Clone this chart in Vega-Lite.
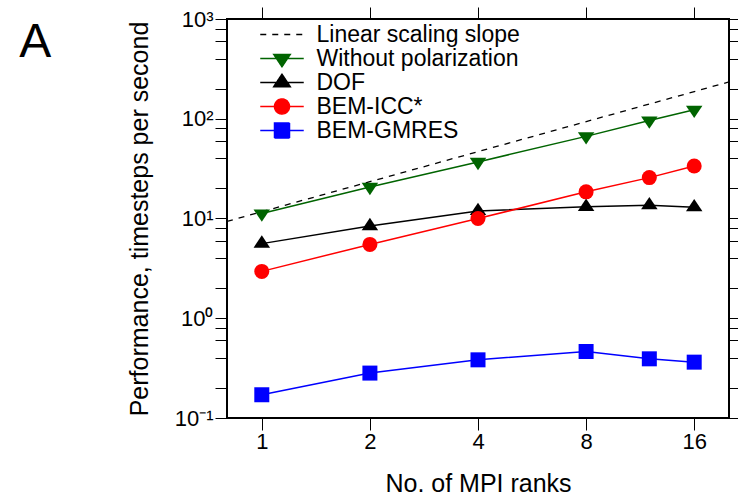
{
  "$schema": "https://vega.github.io/schema/vega-lite/v6.json",
  "width": 502,
  "height": 399,
  "autosize": {"type": "none"},
  "padding": {"left": 227, "top": 19, "right": 9, "bottom": 80},
  "background": "white",
  "config": {
    "view": {"stroke": "black", "strokeWidth": 2},
    "font": "Liberation Sans",
    "axis": {"grid": false, "domain": false, "tickColor": "black", "tickWidth": 1, "tickSize": 12, "labelFont": "Liberation Sans", "labelFontSize": 22, "labelColor": "black", "titleFont": "Liberation Sans", "titleFontSize": 25, "titleFontWeight": "normal", "titleColor": "black"}
  },
  "title": {"text": "A", "anchor": "end", "frame": "group", "orient": "left", "angle": 0, "align": "left", "baseline": "top", "offset": 76, "dy": 0, "fontSize": 48, "font": "Liberation Sans", "fontWeight": "normal", "color": "black"},
  "datasets": {
    "perf": [
      {"series": "Without polarization", "ranks": 1, "perf": 11.2},
      {"series": "Without polarization", "ranks": 2, "perf": 20.7},
      {"series": "Without polarization", "ranks": 4, "perf": 36.9},
      {"series": "Without polarization", "ranks": 8, "perf": 66.6},
      {"series": "Without polarization", "ranks": 12, "perf": 96},
      {"series": "Without polarization", "ranks": 16, "perf": 123},
      {"series": "DOF", "ranks": 1, "perf": 5.6},
      {"series": "DOF", "ranks": 2, "perf": 8.4},
      {"series": "DOF", "ranks": 4, "perf": 11.9},
      {"series": "DOF", "ranks": 8, "perf": 13.1},
      {"series": "DOF", "ranks": 12, "perf": 13.6},
      {"series": "DOF", "ranks": 16, "perf": 13.0},
      {"series": "BEM-ICC*", "ranks": 1, "perf": 2.95},
      {"series": "BEM-ICC*", "ranks": 2, "perf": 5.5},
      {"series": "BEM-ICC*", "ranks": 4, "perf": 10.0},
      {"series": "BEM-ICC*", "ranks": 8, "perf": 18.5},
      {"series": "BEM-ICC*", "ranks": 12, "perf": 25.7},
      {"series": "BEM-ICC*", "ranks": 16, "perf": 33.6},
      {"series": "BEM-GMRES", "ranks": 1, "perf": 0.171},
      {"series": "BEM-GMRES", "ranks": 2, "perf": 0.282},
      {"series": "BEM-GMRES", "ranks": 4, "perf": 0.383},
      {"series": "BEM-GMRES", "ranks": 8, "perf": 0.464},
      {"series": "BEM-GMRES", "ranks": 12, "perf": 0.392},
      {"series": "BEM-GMRES", "ranks": 16, "perf": 0.363}
    ],
    "slope": [
      {"series": "Linear scaling slope", "ranks": 0.8, "perf": 9.36},
      {"series": "Linear scaling slope", "ranks": 20, "perf": 234}
    ]
  },
  "layer": [
    {
      "data": {"name": "slope"},
      "mark": {"type": "line", "color": "black", "strokeDash": [6, 6], "strokeWidth": 1.3, "clip": true},
      "encoding": {
        "x": {
          "field": "ranks", "type": "quantitative",
          "scale": {"type": "log", "base": 2, "domain": [0.8, 20], "nice": false},
          "axis": {
            "orient": "bottom", "values": [1, 2, 4, 8, 16], "format": "d", "labelPadding": 1,
            "title": "No. of MPI ranks", "titlePadding": 19,
            "encode": {"ticks": {"update": {"y2": {"value": -12}}}}
          }
        },
        "y": {
          "field": "perf", "type": "quantitative",
          "scale": {"type": "log", "domain": [0.1, 1000], "nice": false},
          "axis": {
            "orient": "left",
            "values": [0.1, 0.2, 0.4, 0.6, 0.8, 1, 2, 4, 6, 8, 10, 20, 40, 60, 80, 100, 200, 400, 600, 800, 1000],
            "labelExpr": "datum.value == 0.1 ? '10⁻¹' : datum.value == 1 ? '10⁰' : datum.value == 10 ? '10¹' : datum.value == 100 ? '10²' : datum.value == 1000 ? '10³' : ''",
            "labelPadding": 2, "labelOverlap": false,
            "title": "Performance, timesteps per second", "titlePadding": 22,
            "encode": {"ticks": {"update": {"x2": {"signal": "indexof([0.1, 1, 10, 100, 1000], datum.value) >= 0 ? 12 : 6"}}}}
          }
        }
      }
    },
    {
      "data": {"name": "perf"},
      "mark": {"type": "line", "strokeWidth": 1.5},
      "encoding": {
        "x": {
          "field": "ranks", "type": "quantitative",
          "scale": {"type": "log", "base": 2, "domain": [0.8, 20], "nice": false},
          "axis": {
            "orient": "top", "values": [1, 2, 4, 8, 16], "labels": false, "title": null,
            "encode": {"ticks": {"update": {"y2": {"value": 12}}}}
          }
        },
        "y": {
          "field": "perf", "type": "quantitative",
          "scale": {"type": "log", "domain": [0.1, 1000], "nice": false},
          "axis": {
            "orient": "right", "labels": false, "title": null,
            "values": [0.1, 0.2, 0.4, 0.6, 0.8, 1, 2, 4, 6, 8, 10, 20, 40, 60, 80, 100, 200, 400, 600, 800, 1000],
            "encode": {"ticks": {"update": {"x2": {"signal": "indexof([0.1, 1, 10, 100, 1000], datum.value) >= 0 ? -12 : -6"}}}}
          }
        },
        "color": {
          "field": "series", "type": "nominal",
          "scale": {
            "domain": ["Linear scaling slope", "Without polarization", "DOF", "BEM-ICC*", "BEM-GMRES"],
            "range": ["#000000", "#006400", "#000000", "#ff0000", "#0000ff"]
          },
          "legend": {
            "orient": "none", "legendX": 43.5, "legendY": 4, "title": null, "padding": 0,
            "labelFont": "Liberation Sans", "labelFontSize": 23, "labelColor": "black", "labelLimit": 400,
            "symbolSize": 225, "labelOffset": 23, "rowPadding": -2.9,
            "encode": {
              "symbols": {
                "update": {
                  "shape": {"signal": "datum.value === 'Linear scaling slope' ? 'M-2.9,0H2.9' : datum.value === 'Without polarization' ? 'M-2.9,0H2.9M-1.1,-0.55L1.1,-0.55L0,1.1Z' : datum.value === 'DOF' ? 'M-2.9,0H2.9M0,-1.1L1.1,0.55L-1.1,0.55Z' : datum.value === 'BEM-ICC*' ? 'M-2.9,0H2.9M-1,0A1,1 0 1,0 1,0A1,1 0 1,0 -1,0Z' : 'M-2.9,0H2.9M-1,-1H1V1H-1Z'"},
                  "fill": {"signal": "datum.value === 'Linear scaling slope' ? 'transparent' : datum.value === 'Without polarization' ? '#006400' : datum.value === 'DOF' ? '#000000' : datum.value === 'BEM-ICC*' ? '#ff0000' : '#0000ff'"},
                  "stroke": {"signal": "datum.value === 'Without polarization' ? '#006400' : datum.value === 'BEM-ICC*' ? '#ff0000' : datum.value === 'BEM-GMRES' ? '#0000ff' : '#000000'"},
                  "strokeDash": {"signal": "datum.value === 'Linear scaling slope' ? [6, 6] : [1, 0]"},
                  "strokeWidth": {"value": 1.5},
                  "size": {"value": 225},
                  "opacity": {"value": 1}
                }
              }
            }
          }
        }
      }
    },
    {
      "data": {"name": "perf"},
      "mark": {"type": "point", "filled": true, "size": 225, "opacity": 1, "strokeWidth": 0},
      "encoding": {
        "x": {"field": "ranks", "type": "quantitative", "scale": {"type": "log", "base": 2, "domain": [0.8, 20], "nice": false}, "axis": null},
        "y": {"field": "perf", "type": "quantitative", "scale": {"type": "log", "domain": [0.1, 1000], "nice": false}, "axis": null},
        "color": {"field": "series", "type": "nominal"},
        "shape": {
          "field": "series", "type": "nominal",
          "scale": {
            "domain": ["Without polarization", "DOF", "BEM-ICC*", "BEM-GMRES"],
            "range": ["M-1.1,-0.55L1.1,-0.55L0,1.1Z", "M0,-1.1L1.1,0.55L-1.1,0.55Z", "circle", "square"]
          },
          "legend": null
        }
      }
    }
  ],
  "resolve": {"axis": {"x": "independent", "y": "independent"}}
}
